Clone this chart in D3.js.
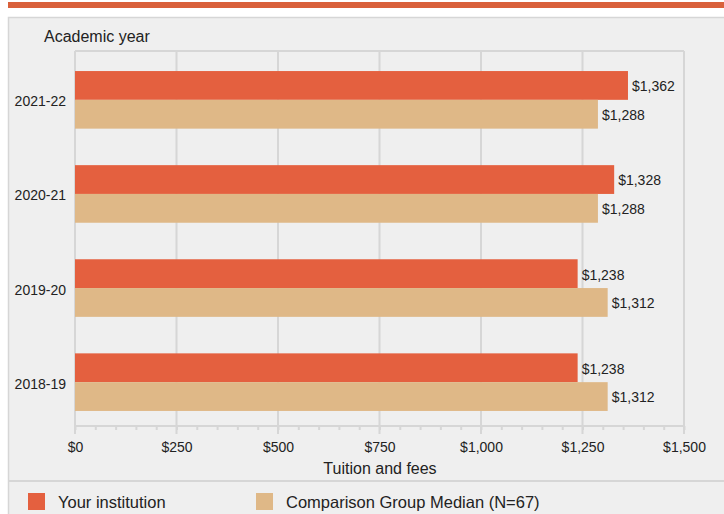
<!DOCTYPE html>
<html><head><meta charset="utf-8">
<script src="https://cdn.jsdelivr.net/npm/d3@7"></script>
<style>
html,body{margin:0;padding:0;background:#fff;}
svg{display:block;font-family:"Liberation Sans",Arial,sans-serif;}
</style></head>
<body>
<svg id="chart" width="724" height="514"></svg>
<script>
const categories = ["2021-22","2020-21","2019-20","2018-19"];
const seriesNames = ["Your institution","Comparison Group Median (N=67)"];
const yourInstitution = [1362,1328,1238,1238];
const comparisonMedian = [1288,1288,1312,1312];
const xTicks = [0,250,500,750,1000,1250,1500];
const colors = ["#e4603f","#dfb887"];
const FONT = "Liberation Sans, Arial, sans-serif";

const svg = d3.select("#chart");
const W = 724, H = 514;
svg.append("rect").attr("x",8).attr("y",2).attr("width",W-8).attr("height",6).attr("fill","#d9603b");
svg.append("rect").attr("x",8.5).attr("y",17.5).attr("width",W).attr("height",H).attr("fill","#efefef").attr("stroke","#d6d6d6").attr("stroke-width",1.5);

const m = {left:75, right:684, top:51, bottom:426};
const x = d3.scaleLinear().domain([0,1500]).range([m.left,m.right]);
const y = d3.scaleBand().domain(categories).range([m.top, m.top+380]).paddingInner(0.388).paddingOuter(0.213);
const ySub = d3.scaleBand().domain([0,1]).range([0,y.bandwidth()]);

const g = svg.append("g");
g.selectAll("line.grid").data(xTicks).join("line")
  .attr("x1",d=>x(d)).attr("x2",d=>x(d)).attr("y1",m.top).attr("y2",m.bottom+8)
  .attr("stroke","#d6d6d6").attr("stroke-width",2);
g.append("line").attr("x1",m.left).attr("x2",m.right).attr("y1",m.top).attr("y2",m.top).attr("stroke","#d6d6d6").attr("stroke-width",2);

const xAxisMinor = d3.axisBottom(x).tickValues(d3.range(0,1501,50)).tickSize(4).tickFormat("");
const ax1 = svg.append("g").attr("transform",`translate(0,${m.bottom})`).call(xAxisMinor);
ax1.select(".domain").remove();
ax1.selectAll("line").attr("stroke","#d6d6d6").attr("stroke-width",2);
svg.append("line").attr("x1",m.left).attr("x2",m.right).attr("y1",m.bottom).attr("y2",m.bottom).attr("stroke","#d6d6d6").attr("stroke-width",2);
const xAxis = d3.axisBottom(x).tickValues(xTicks).tickSize(0).tickPadding(16)
  .tickFormat(d=>"$"+d3.format(",")(d));
const ax2 = svg.append("g").attr("transform",`translate(0,${m.bottom})`).call(xAxis);
ax2.select(".domain").remove();
ax2.selectAll("text").attr("font-size",14).attr("fill","#222").attr("font-family",FONT);

svg.append("text").attr("x",380).attr("y",474).attr("text-anchor","middle")
  .attr("font-size",16).attr("fill","#222").text("Tuition and fees");
svg.append("text").attr("x",44).attr("y",42).attr("font-size",16).attr("fill","#222").text("Academic year");

const yAxis = d3.axisLeft(y).tickSize(0).tickPadding(9);
const ay = svg.append("g").attr("transform",`translate(${m.left},2)`).call(yAxis);
ay.select(".domain").remove();
ay.selectAll("text").attr("font-size",14).attr("fill","#222").attr("font-family",FONT);

const data = categories.map((c,i)=>({cat:c, vals:[yourInstitution[i], comparisonMedian[i]]}));
const grp = svg.append("g").selectAll("g").data(data).join("g").attr("transform",d=>`translate(0,${y(d.cat)})`);
grp.selectAll("rect").data(d=>d.vals.map((v,k)=>({v,k}))).join("rect")
  .attr("x",x(0)).attr("y",d=>ySub(d.k)).attr("width",d=>x(d.v)-x(0)).attr("height",ySub.bandwidth())
  .attr("fill",d=>colors[d.k]);
grp.selectAll("text").data(d=>d.vals.map((v,k)=>({v,k}))).join("text")
  .attr("x",d=>x(d.v)+4).attr("y",d=>ySub(d.k)+ySub.bandwidth()/2+1).attr("dy","0.35em")
  .attr("font-size",14).attr("fill","#222").text(d=>"$"+d3.format(",")(d.v));

svg.append("line").attr("x1",8).attr("x2",W).attr("y1",481).attr("y2",481).attr("stroke","#d6d6d6").attr("stroke-width",2);
const legX = [28,256];
const leg = svg.append("g").selectAll("g").data(seriesNames).join("g").attr("transform",(d,i)=>`translate(${legX[i]},493)`);
leg.append("rect").attr("width",17).attr("height",17).attr("fill",(d,i)=>colors[i]);
leg.append("text").attr("x",30).attr("y",9).attr("dy","0.35em").attr("font-size",16.5).attr("fill","#222").text(d=>d);
</script>
</body></html>
